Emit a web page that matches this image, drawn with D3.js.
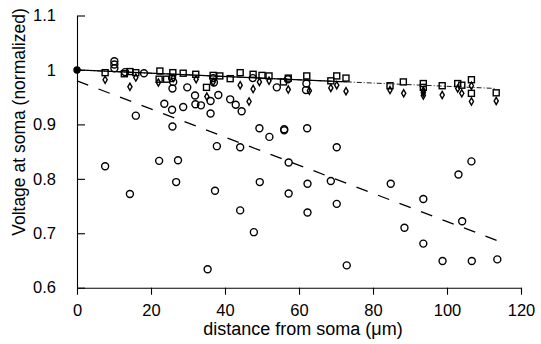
<!DOCTYPE html>
<html>
<head>
<meta charset="utf-8">
<script src="https://cdn.jsdelivr.net/npm/d3@7"></script>
<style>
  body { margin: 0; background: #fff; }
  svg { display: block; font-family: "Liberation Sans", Arial, Helvetica, sans-serif; }
</style>
</head>
<body>
<div id="chart"></div>
<script>
// open circles (widely scattered series)
const circleDist = [7.6, 14.3, 22.2, 27.3, 26.8, 37.8, 44.1, 37.3, 57.2, 49.4, 57.2, 44.1, 47.8, 35.3, 62.3,
  62.3, 70.2, 68.6, 70.2, 72.9, 84.8, 88.5, 93.6, 93.6, 98.8, 103.1, 106.6, 104.1, 106.7, 113.6,
  15.9, 25.8, 29.8, 23.6, 25.7, 28.7, 31.9, 32.0, 33.5, 36.1, 36.1, 38.2, 41.4, 42.9, 44.5, 25.8,
  49.3, 52.0, 56.0, 56.0, 62.2, 54.0,
  10.1, 10.1, 10.1, 18.1, 13.0, 25.7, 26.0, 36.8, 37.0, 47.5, 57.0, 62.0, 61.9];
const circleVolt = [0.823, 0.772, 0.833, 0.834, 0.794, 0.860, 0.858, 0.778, 0.830, 0.794, 0.773, 0.742, 0.702, 0.634, 0.791,
  0.738, 0.858, 0.796, 0.754, 0.641, 0.791, 0.710, 0.763, 0.681, 0.649, 0.808, 0.832, 0.722, 0.649, 0.652,
  0.916, 0.966, 0.968, 0.938, 0.927, 0.932, 0.953, 0.937, 0.935, 0.943, 0.920, 0.954, 0.946, 0.936, 0.924, 0.896,
  0.893, 0.877, 0.891, 0.889, 0.893, 0.968,
  1.016, 1.010, 1.003, 0.994, 0.996, 0.985, 0.978, 0.985, 0.977, 0.985, 0.983, 0.975, 0.963];

// open squares
const squareDist = [7.6, 12.8, 14.3, 15.9, 22.4, 22.2, 24.2, 25.9, 28.7, 32.1, 35.0, 36.8, 38.6, 41.4, 44.1, 47.6, 50.0,
  51.9, 55.8, 57.1, 62.1, 68.6, 70.2, 72.7, 84.6, 88.2, 93.6, 93.6, 98.7, 102.9, 104.0, 106.6, 106.6, 113.3];
const squareVolt = [0.995, 0.993, 0.997, 0.995, 0.998, 0.983, 0.983, 0.995, 0.994, 0.992, 0.968, 0.990, 0.989, 0.984, 0.995, 0.992, 0.990,
  0.989, 0.978, 0.985, 0.989, 0.980, 0.989, 0.985, 0.971, 0.978, 0.975, 0.968, 0.971, 0.975, 0.972, 0.982, 0.957, 0.958];

// open diamonds
const diamondDist = [7.6, 14.3, 15.9, 22.0, 26.0, 32.2, 35.1, 36.8, 44.1, 46.5, 47.6, 49.3, 51.9, 57.1, 62.8, 68.6,
  70.2, 72.7, 84.6, 88.3, 93.6, 93.6, 93.6, 98.7, 102.9, 104.0, 106.6, 106.6, 113.3];
const diamondVolt = [0.982, 0.969, 0.986, 0.977, 0.985, 0.983, 0.951, 0.978, 0.972, 0.942, 0.965, 0.978, 0.980, 0.964, 0.962, 0.967,
  0.972, 0.961, 0.963, 0.957, 0.962, 0.958, 0.953, 0.954, 0.966, 0.957, 0.971, 0.942, 0.943];

// reference point at the soma
const somaDist = [0];
const somaVolt = [1.0];

// fitted lines (end points)
const solidFitDist = [0, 73];
const solidFitVolt = [1.0, 0.978];
const dottedFitDist = [0, 113];
const dottedFitVolt = [1.0, 0.966];
const dashedFitDist = [0, 113.4];
const dashedFitVolt = [0.98, 0.687];

const xTicks = [0, 20, 40, 60, 80, 100, 120];
const yTicks = [0.6, 0.7, 0.8, 0.9, 1.0, 1.1];

const width = 541, height = 344;
const margin = {top: 15.5, right: 20, bottom: 56.3, left: 77};

const svg = d3.select("#chart").append("svg")
  .attr("width", width)
  .attr("height", height);

const x = d3.scaleLinear().domain([0, 120]).range([margin.left, width - margin.right]);
const y = d3.scaleLinear().domain([0.6, 1.1]).range([height - margin.bottom, margin.top]);

// axes: y ticks point inward, x ticks point outward
const yAxis = svg.append("g")
  .attr("transform", `translate(${margin.left},0)`)
  .call(d3.axisLeft(y).tickValues(yTicks).tickSizeInner(-8).tickSizeOuter(0).tickPadding(21)
    .tickFormat(d => String(+d.toFixed(1))));
const xAxis = svg.append("g")
  .attr("transform", `translate(0,${height - margin.bottom})`)
  .call(d3.axisBottom(x).tickValues(xTicks).tickSizeInner(7).tickSizeOuter(0).tickPadding(10));

[xAxis, yAxis].forEach(g => {
  g.selectAll("path, line").attr("stroke", "#000").attr("stroke-width", 1.1);
  g.selectAll("text").attr("fill", "#000").style("font-size", "16.5px");
});

// fit lines
const line = d3.line().x(d => x(d[0])).y(d => y(d[1]));
svg.append("path")
  .attr("d", line(d3.zip(dottedFitDist, dottedFitVolt)))
  .attr("fill", "none").attr("stroke", "#000").attr("stroke-width", 0.9)
  .attr("stroke-dasharray", "5,2,1,2");
svg.append("path")
  .attr("d", line(d3.zip(solidFitDist, solidFitVolt)))
  .attr("fill", "none").attr("stroke", "#000").attr("stroke-width", 1.3);
svg.append("path")
  .attr("d", line(d3.zip(dashedFitDist, dashedFitVolt)))
  .attr("fill", "none").attr("stroke", "#000").attr("stroke-width", 1.3)
  .attr("stroke-dasharray", "12,11");

// markers
const mark = {fill: "none", stroke: "#000", "stroke-width": 1.4};
function styled(sel) {
  Object.entries(mark).forEach(([k, v]) => sel.attr(k, v));
  return sel;
}

styled(svg.append("g").selectAll("path")
  .data(d3.zip(diamondDist, diamondVolt))
  .join("path")
  .attr("d", d3.symbol(d3.symbolDiamond, 15))
  .attr("transform", d => `translate(${x(d[0])},${y(d[1])})`));

styled(svg.append("g").selectAll("rect")
  .data(d3.zip(squareDist, squareVolt))
  .join("rect")
  .attr("x", d => x(d[0]) - 3)
  .attr("y", d => y(d[1]) - 3)
  .attr("width", 6)
  .attr("height", 6));

styled(svg.append("g").selectAll("circle")
  .data(d3.zip(circleDist, circleVolt))
  .join("circle")
  .attr("cx", d => x(d[0]))
  .attr("cy", d => y(d[1]))
  .attr("r", 3.5));

svg.append("g").selectAll("circle")
  .data(d3.zip(somaDist, somaVolt))
  .join("circle")
  .attr("cx", d => x(d[0]))
  .attr("cy", d => y(d[1]))
  .attr("r", 3.7)
  .attr("fill", "#000");

// axis titles
svg.append("text")
  .attr("x", (margin.left + width - margin.right) / 2 + 4)
  .attr("y", 335)
  .attr("text-anchor", "middle")
  .style("font-size", "18px")
  .text("distance from soma (μm)");

svg.append("text")
  .attr("transform", "translate(25,122) rotate(-90)")
  .attr("text-anchor", "middle")
  .style("font-size", "17.5px")
  .text("Voltage at soma (normalized)");
</script>
</body>
</html>
